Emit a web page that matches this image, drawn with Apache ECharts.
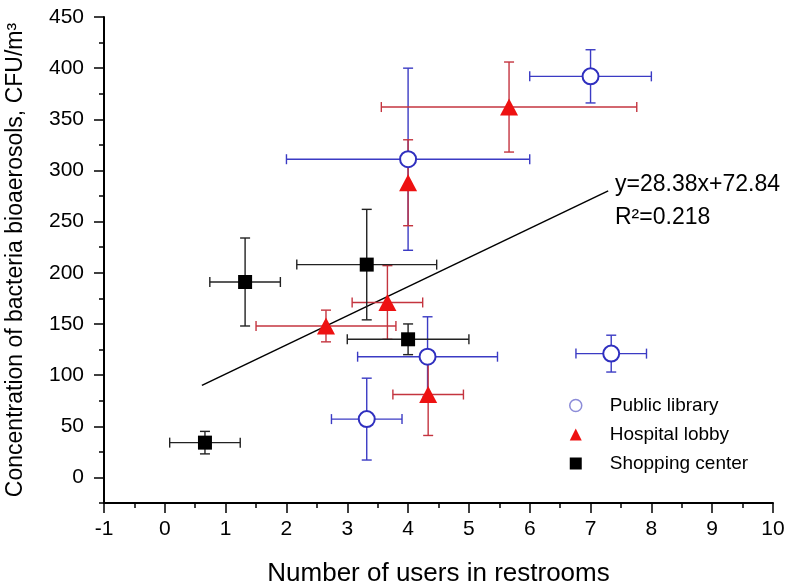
<!DOCTYPE html>
<html>
<head>
<meta charset="utf-8">
<script src="https://cdn.jsdelivr.net/npm/echarts@6/dist/echarts.min.js"></script>
<style>
html,body{margin:0;padding:0;background:#fff;}
#chart{width:792px;height:585px;}
</style>
</head>
<body>
<div id="chart"></div>
<script>
// ---- data ----
const seriesNames = ['Public library', 'Hospital lobby', 'Shopping center'];

const libX    = [7.0, 4.0, 7.34, 4.32, 3.32];
const libY    = [392, 311, 121, 118, 57];
const libXErr = [1.0, 2.0, 0.58, 1.15, 0.58];
const libYErr = [26, 89, 18, 39, 40];

const hosX    = [5.66, 4.0, 3.66, 2.65, 4.33];
const hosY    = [362, 288, 171, 148, 81];
const hosXErr = [2.1, 0, 0.58, 1.15, 0.58];
const hosYErr = [44, 42, 36, 15.5, 40];

const shopX    = [1.32, 3.32, 4.0, 0.66];
const shopY    = [191, 208, 135, 34];
const shopXErr = [0.58, 1.15, 1.0, 0.58];
const shopYErr = [43, 54, 15, 11];

// fitted line end points (as drawn)
const fitX = [0.61, 7.29];
const fitY = [90, 280];
const fitEquation = 'y=28.38x+72.84';
const fitR2 = 'R\u00B2=0.218';

const yMajorTicks = [0, 50, 100, 150, 200, 250, 300, 350, 400, 450];
const yMinorTicks = [-25, 25, 75, 125, 175, 225, 275, 325, 375, 425];

// ---- build ----
const FONT = '"Liberation Sans", Arial, sans-serif';
function zip(xs, ys, exs, eys) {
  return xs.map((x, i) => [x, ys[i], exs ? exs[i] : 0, eys ? eys[i] : 0]);
}
function errRender(color) {
  return function (params, api) {
    const x = api.value(0), y = api.value(1), ex = api.value(2), ey = api.value(3);
    const cap = 5;
    const style = { stroke: color, lineWidth: 1.4 };
    const ch = [];
    function ln(a, b, c, d) { ch.push({ type: 'line', shape: { x1: a, y1: b, x2: c, y2: d }, style: style }); }
    if (ex > 0) {
      const l = api.coord([x - ex, y]), r = api.coord([x + ex, y]);
      ln(l[0], l[1], r[0], r[1]);
      ln(l[0], l[1] - cap, l[0], l[1] + cap);
      ln(r[0], r[1] - cap, r[0], r[1] + cap);
    }
    if (ey > 0) {
      const t = api.coord([x, y + ey]), b = api.coord([x, y - ey]);
      ln(t[0], t[1], b[0], b[1]);
      ln(t[0] - cap, t[1], t[0] + cap, t[1]);
      ln(b[0] - cap, b[1], b[0] + cap, b[1]);
    }
    return { type: 'group', children: ch };
  };
}

const BLUE = '#2f2fbf', BLUE_ERR = '#3b3bc4';
const RED = '#ee1111', RED_ERR = '#c4343f';
const BLACK = '#000000', BLACK_ERR = '#222222';

const chart = echarts.init(document.getElementById('chart'));
const tickStyle = { color: '#000', width: 1.5 };
chart.setOption({
  animation: false,
  backgroundColor: '#fff',
  grid: { left: 104, right: 19, top: 17, bottom: 82, outerBoundsMode: 'none', containLabel: false },
  xAxis: {
    type: 'value', min: -1, max: 10, interval: 1,
    axisLine: { show: true, onZero: false, lineStyle: { color: '#000', width: 2 } },
    splitLine: { show: false },
    axisTick: { show: true, length: 10, lineStyle: tickStyle },
    minorTick: { show: true, splitNumber: 2, length: 5, lineStyle: tickStyle },
    axisLabel: { color: '#000', fontSize: 21, fontFamily: FONT, margin: 16 },
    name: 'Number of users in restrooms', nameLocation: 'middle', nameGap: 58,
    nameTextStyle: { color: '#000', fontFamily: FONT, fontSize: 26 }
  },
  yAxis: [
    {
      type: 'value', min: -25, max: 450, position: 'left',
      axisLine: { show: true, onZero: false, lineStyle: { color: '#000', width: 2 } },
      splitLine: { show: false },
      axisTick: { show: true, length: 10, customValues: yMajorTicks, lineStyle: tickStyle },
      axisLabel: { color: '#000', fontSize: 21, fontFamily: FONT, margin: 20, customValues: yMajorTicks },
      name: 'Concentration of bacteria bioaerosols, CFU/m\u00B3', nameLocation: 'middle', nameGap: 77,
      nameTextStyle: { color: '#000', fontFamily: FONT, fontSize: 23 }
    },
    {
      type: 'value', min: -25, max: 450, position: 'left',
      axisLine: { show: false, onZero: false },
      splitLine: { show: false },
      axisLabel: { show: false, customValues: yMinorTicks },
      axisTick: { show: true, length: 5, customValues: yMinorTicks, lineStyle: tickStyle }
    }
  ],
  legend: {
    orient: 'vertical', left: 564, top: 391,
    itemWidth: 12, itemHeight: 12, itemGap: 10,
    selectedMode: false,
    textStyle: { color: '#000', fontSize: 19, lineHeight: 19, fontFamily: FONT, padding: [0, 0, 0, 23] },
    data: [
      { name: seriesNames[0], icon: 'circle', itemStyle: { color: '#fff', borderColor: '#8c8cd8', borderWidth: 1.5 } },
      { name: seriesNames[1], icon: 'triangle', itemStyle: { color: RED, borderWidth: 0 } },
      { name: seriesNames[2], icon: 'rect', itemStyle: { color: BLACK, borderWidth: 0 } }
    ]
  },
  graphic: [
    { type: 'text', left: 615, top: 173, style: { text: fitEquation, fill: '#000', font: '23px ' + FONT } },
    { type: 'text', left: 615, top: 206, style: { text: fitR2, fill: '#000', font: '23px ' + FONT } }
  ],
  series: [
    { type: 'line', data: fitX.map((x, i) => [x, fitY[i]]), showSymbol: false, symbol: 'none',
      lineStyle: { color: '#000', width: 1.5 }, z: 1, silent: true },
    { type: 'custom', renderItem: errRender(BLUE_ERR), data: zip(libX, libY, libXErr, libYErr), encode: { x: 0, y: 1 }, z: 2, silent: true },
    { type: 'custom', renderItem: errRender(RED_ERR), data: zip(hosX, hosY, hosXErr, hosYErr), encode: { x: 0, y: 1 }, z: 2, silent: true },
    { type: 'custom', renderItem: errRender(BLACK_ERR), data: zip(shopX, shopY, shopXErr, shopYErr), encode: { x: 0, y: 1 }, z: 2, silent: true },
    { name: seriesNames[0], type: 'scatter', data: zip(libX, libY), symbol: 'circle', symbolSize: 16,
      itemStyle: { color: '#fff', borderColor: BLUE, borderWidth: 2, opacity: 1 }, z: 3 },
    { name: seriesNames[1], type: 'scatter', data: zip(hosX, hosY), symbol: 'triangle', symbolSize: [18, 17],
      itemStyle: { color: RED, opacity: 1 }, z: 3 },
    { name: seriesNames[2], type: 'scatter', data: zip(shopX, shopY), symbol: 'rect', symbolSize: 14,
      itemStyle: { color: BLACK, opacity: 1 }, z: 3 }
  ]
});
</script>
</body>
</html>
